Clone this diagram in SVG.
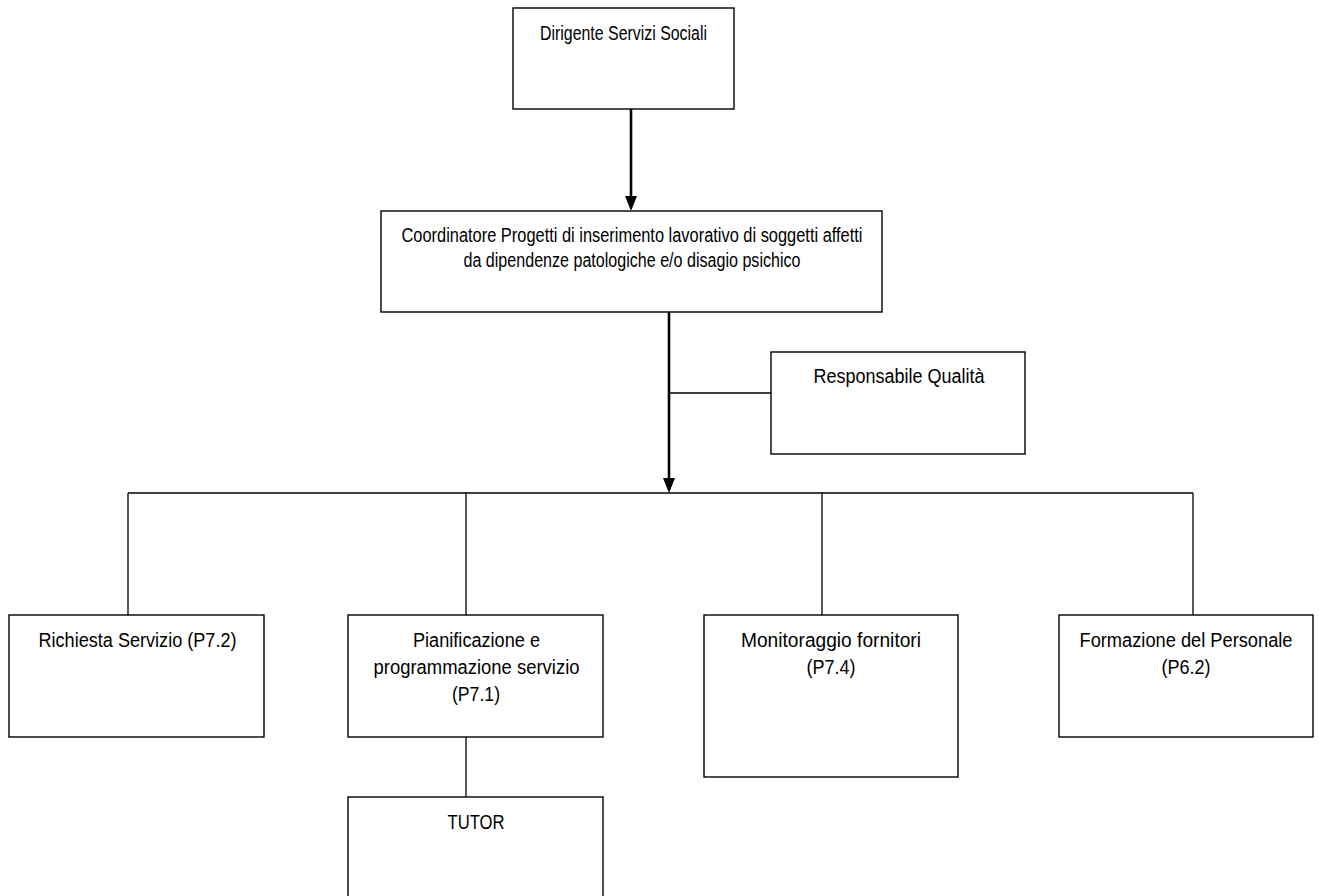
<svg xmlns="http://www.w3.org/2000/svg" width="1319" height="896" viewBox="0 0 1319 896">
<style>
.box{fill:#fff;stroke:#000;stroke-width:1.4}
.t{font-family:"Liberation Sans",Arial,sans-serif;font-size:20px;fill:#000;text-anchor:middle}
.thin{fill:none;stroke:#000;stroke-width:1.3}
.thick{fill:none;stroke:#000;stroke-width:2.6}
</style>
<rect width="1319" height="896" fill="#fff"/>
<g id="connectors">
<line class="thick" x1="631" y1="109" x2="631" y2="197"/>
<path d="M625,196 L637,196 L631,211 Z" fill="#000"/>
<line class="thick" x1="669" y1="312" x2="669" y2="479"/>
<path d="M663,478 L675,478 L669,493 Z" fill="#000"/>
<line class="thin" x1="669" y1="393" x2="771" y2="393"/>
<line class="thin" x1="128" y1="493" x2="1193" y2="493"/>
<line class="thin" x1="128" y1="493" x2="128" y2="615"/>
<line class="thin" x1="466" y1="493" x2="466" y2="615"/>
<line class="thin" x1="822" y1="493" x2="822" y2="615"/>
<line class="thin" x1="1193" y1="493" x2="1193" y2="615"/>
<line class="thin" x1="466" y1="737" x2="466" y2="797"/>
</g>
<g id="dirigente">
<rect class="box" x="513" y="8" width="221" height="101"/>
<text class="t" x="623.5" y="40" textLength="167" lengthAdjust="spacingAndGlyphs">Dirigente Servizi Sociali</text>
</g>
<g id="coordinatore">
<rect class="box" x="381" y="211" width="501" height="101"/>
<text class="t" x="632" y="242" textLength="461" lengthAdjust="spacingAndGlyphs">Coordinatore Progetti di inserimento lavorativo di soggetti affetti</text>
<text class="t" x="632" y="267" textLength="337" lengthAdjust="spacingAndGlyphs">da dipendenze patologiche e/o disagio psichico</text>
</g>
<g id="responsabile">
<rect class="box" x="771" y="352" width="254" height="102"/>
<text class="t" x="899" y="383" textLength="171" lengthAdjust="spacingAndGlyphs">Responsabile Qualità</text>
</g>
<g id="richiesta">
<rect class="box" x="9" y="615" width="255" height="122"/>
<text class="t" x="137.5" y="647" textLength="198" lengthAdjust="spacingAndGlyphs">Richiesta Servizio (P7.2)</text>
</g>
<g id="pianificazione">
<rect class="box" x="348" y="615" width="255" height="122"/>
<text class="t" x="476.5" y="647" textLength="127" lengthAdjust="spacingAndGlyphs">Pianificazione e</text>
<text class="t" x="476.5" y="674" textLength="206" lengthAdjust="spacingAndGlyphs">programmazione servizio</text>
<text class="t" x="476" y="701" textLength="48" lengthAdjust="spacingAndGlyphs">(P7.1)</text>
</g>
<g id="tutor">
<rect class="box" x="348" y="797" width="255" height="110"/>
<text class="t" x="476" y="829" textLength="57" lengthAdjust="spacingAndGlyphs">TUTOR</text>
</g>
<g id="monitoraggio">
<rect class="box" x="704" y="615" width="254" height="162"/>
<text class="t" x="831" y="647" textLength="180" lengthAdjust="spacingAndGlyphs">Monitoraggio fornitori</text>
<text class="t" x="831" y="674" textLength="49" lengthAdjust="spacingAndGlyphs">(P7.4)</text>
</g>
<g id="formazione">
<rect class="box" x="1059" y="615" width="254" height="122"/>
<text class="t" x="1186" y="647" textLength="213" lengthAdjust="spacingAndGlyphs">Formazione del Personale</text>
<text class="t" x="1186" y="674" textLength="49" lengthAdjust="spacingAndGlyphs">(P6.2)</text>
</g>
</svg>
